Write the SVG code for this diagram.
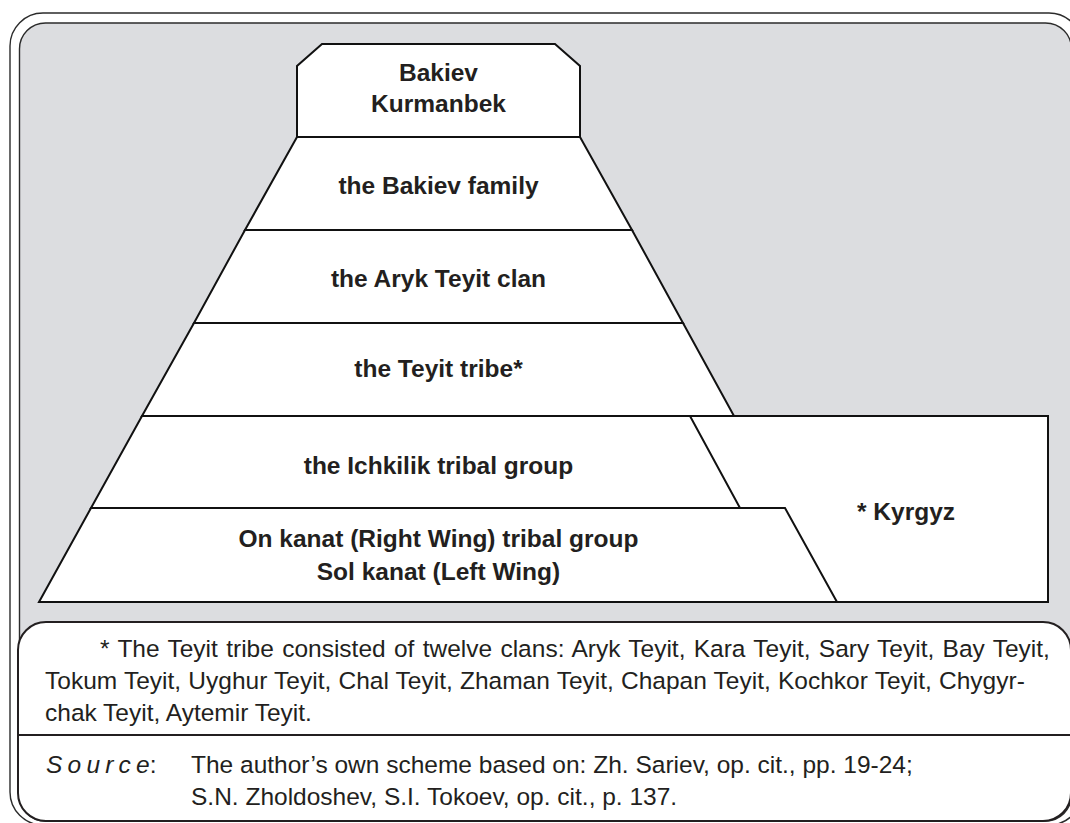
<svg xmlns="http://www.w3.org/2000/svg" width="1070" height="823" viewBox="0 0 1070 823">
<style>
.frame{fill:none;stroke:#2b2b2b;stroke-width:1.4}
.bg{fill:#dcdde0;stroke:#2b2b2b;stroke-width:1.4}
.tier{fill:#ffffff;stroke:#111111;stroke-width:2;stroke-linejoin:miter}
.lbl{font-family:"Liberation Sans",Arial,sans-serif;font-size:24.5px;font-weight:bold;fill:#231f20;text-anchor:middle}
.note{font-family:"Liberation Sans",Arial,sans-serif;font-size:24.5px;fill:#231f20}
.notebox{fill:#ffffff;stroke:#231f20;stroke-width:2}
</style>
<rect width="1070" height="823" fill="#ffffff"/>
<rect class="frame" x="10" y="13" width="1072" height="812" rx="33" ry="33"/>
<rect class="bg" x="19.5" y="23" width="1052" height="798" rx="26" ry="26"/>
<g id="connectors"></g>
<g id="kyrgyz">
<rect class="tier" x="690" y="416" width="358" height="186"/>
<text class="lbl" x="857" y="520" style="text-anchor:start">* Kyrgyz</text>
</g>
<g id="apex">
<polygon class="tier" points="297,137 297,66 322,44 555,44 580,66 580,137"/>
<text class="lbl" x="438.5" y="81">Bakiev</text>
<text class="lbl" x="438.5" y="112">Kurmanbek</text>
</g>
<g id="family">
<polygon class="tier" points="297,137 580,137 632,230 245,230"/>
<text class="lbl" x="438.5" y="194">the Bakiev family</text>
</g>
<g id="clan">
<polygon class="tier" points="245,230 632,230 683,323 194,323"/>
<text class="lbl" x="438.5" y="287">the Aryk Teyit clan</text>
</g>
<g id="tribe">
<polygon class="tier" points="194,323 683,323 734,416 142,416"/>
<text class="lbl" x="438.5" y="377">the Teyit tribe*</text>
</g>
<g id="ichkilik">
<polygon class="tier" points="142,416 690,416 740,508 91,508"/>
<text class="lbl" x="438.5" y="474">the Ichkilik tribal group</text>
</g>
<g id="onkanat">
<polygon class="tier" points="91,508 785,508 837,602 39,602"/>
<text class="lbl" x="438.5" y="547">On kanat (Right Wing) tribal group</text>
<text class="lbl" x="438.5" y="580">Sol kanat (Left Wing)</text>
</g>
<g id="notes">
<rect class="notebox" x="18" y="622" width="1053" height="199" rx="28" ry="28"/>
<line x1="18" y1="735" x2="1071" y2="735" stroke="#231f20" stroke-width="2"/>
<text class="note" x="100" y="657" style="word-spacing:1.5px">* The Teyit tribe consisted of twelve clans: Aryk Teyit, Kara Teyit, Sary Teyit, Bay Teyit,</text>
<text class="note" x="45" y="689" style="word-spacing:0.4px">Tokum Teyit, Uyghur Teyit, Chal Teyit, Zhaman Teyit, Chapan Teyit, Kochkor Teyit, Chygyr-</text>
<text class="note" x="45" y="721">chak Teyit, Aytemir Teyit.</text>
<text class="note" x="46" y="773" style="word-spacing:-1.6px"><tspan font-style="italic">S o u r c e</tspan>:</text>
<text class="note" x="191" y="773">The author’s own scheme based on: Zh. Sariev, op. cit., pp. 19-24;</text>
<text class="note" x="191" y="805">S.N. Zholdoshev, S.I. Tokoev, op. cit., p. 137.</text>
</g>
</svg>
